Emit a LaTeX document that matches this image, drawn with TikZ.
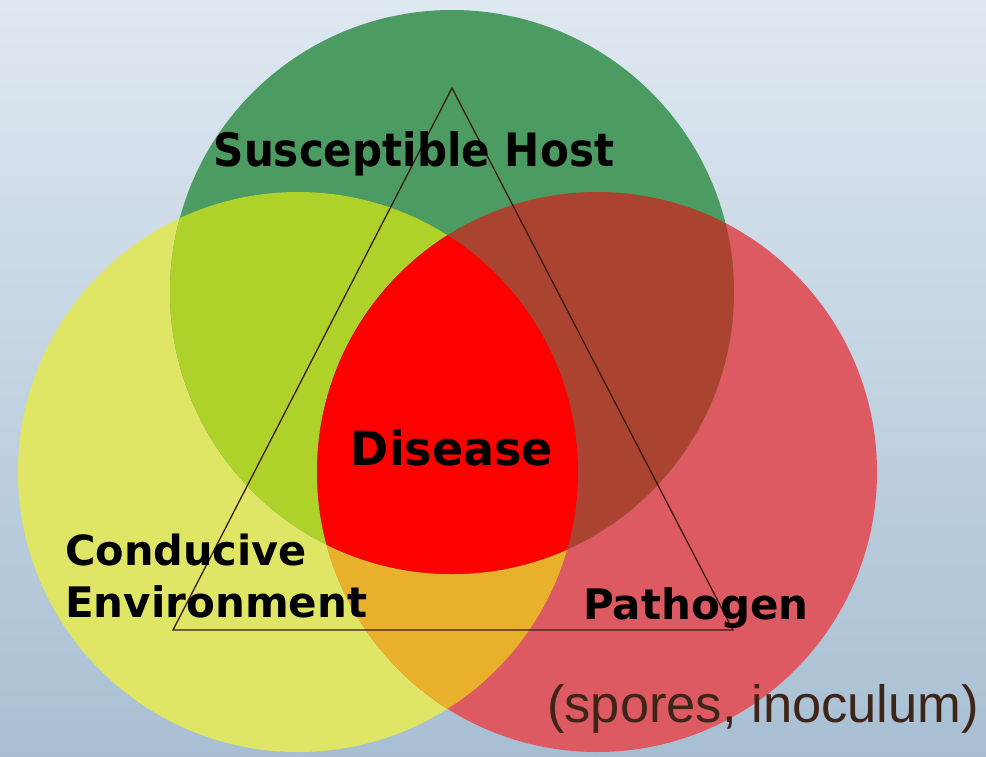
\documentclass[tikz,border=0pt]{standalone}
\usepackage{fontspec}
\newfontfamily\labfont{DejaVu Sans}
\newfontfamily\notefont{Liberation Sans}
\definecolor{bgtop}{HTML}{DEE8F1}
\definecolor{bgbot}{HTML}{A8BFD3}
\definecolor{cgreen}{HTML}{4C9B62}
\definecolor{cyellow}{HTML}{DFE564}
\definecolor{cred}{HTML}{DE5A62}
\definecolor{cgy}{HTML}{AFD22B}
\definecolor{cgr}{HTML}{AA4430}
\definecolor{cyr}{HTML}{E9B12B}
\definecolor{ccore}{HTML}{FF0000}
\definecolor{tri}{HTML}{3A1A12}
\definecolor{note}{HTML}{3F2418}
\begin{document}
\begin{tikzpicture}[x=1pt,y=-1pt,
  lab/.style={font=\labfont\bfseries, text=black, inner sep=0pt},
  notelab/.style={font=\notefont\fontsize{52.5}{56}\selectfont, text=note, inner sep=0pt}]
\useasboundingbox (0,0) rectangle (986,756);
\shade[top color=bgtop, bottom color=bgbot] (0,0) rectangle (986,756);
\def\yc{(298,472) circle[radius=280]}
\def\rc{(597,472) circle[radius=280]}
\def\gc{(452,292) circle[radius=282]}
% single circles
\fill[cyellow] \yc;
\fill[cred] \rc;
\begin{scope}
  \clip \yc;
  \fill[cyr] \rc;
\end{scope}
\fill[cgreen] \gc;
\begin{scope}
  \clip \yc;
  \fill[cgy] \gc;
\end{scope}
\begin{scope}
  \clip \rc;
  \fill[cgr] \gc;
\end{scope}
\begin{scope}
  \clip \yc;
  \clip \rc;
  \fill[ccore] \gc;
\end{scope}
% triangle
\coordinate (apex) at (452,88);
\coordinate (bl) at (173,630);
\coordinate (br) at (733,630);
\draw[tri, line width=1.3pt, line join=miter] (apex) -- (bl) -- (br) -- cycle;
% labels
\node[lab, font=\labfont\bfseries\fontsize{46}{50}\selectfont, anchor=base] (host) at (414,166) {\scalebox{0.915}[1]{Susceptible Host}};
\node[lab, font=\labfont\bfseries\fontsize{47}{50}\selectfont, anchor=base] (dis) at (452,465) {\scalebox{0.98}[1]{Disease}};
\node[lab, font=\labfont\bfseries\fontsize{41.5}{46}\selectfont, anchor=base west] (cond) at (65,565) {Conducive};
\node[lab, font=\labfont\bfseries\fontsize{42}{46}\selectfont, anchor=base west] (env) at (65,617) {Environment};
\node[lab, font=\labfont\bfseries\fontsize{42}{46}\selectfont, anchor=base west] (path) at (583,619) {Pathogen};
\node[notelab, anchor=base west] (spores) at (547,722) {(spores, inoculum)};
\end{tikzpicture}
\end{document}
